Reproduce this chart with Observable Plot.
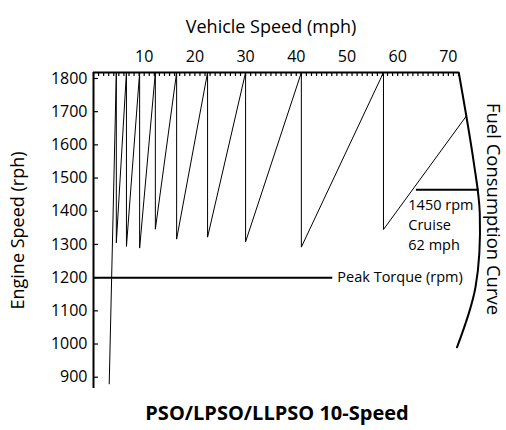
<!DOCTYPE html>
<html><head><meta charset="utf-8">
<script src="https://cdn.jsdelivr.net/npm/d3@7"></script>
<script src="https://cdn.jsdelivr.net/npm/@observablehq/plot@0.6"></script>
<style>
body{margin:0;background:#fff;font-family:"Open Sans",sans-serif;}
#chart{width:506px;height:395px;}
#title{width:506px;box-sizing:border-box;padding-left:48px;text-align:center;font-weight:bold;font-size:20px;line-height:36px;height:35px;color:#000;}
</style></head><body>
<div id="chart"></div>
<div id="title"></div>
<script>
// ---- data ----
const titleText = "PSO/LPSO/LLPSO 10-Speed";
const xLabel = "Vehicle Speed (mph)";
const yLabel = "Engine Speed (rph)";
const fuelLabel = "Fuel Consumption Curve";
const speedTicks = [10, 20, 30, 40, 50, 60, 70];
const minorSpeedTicks = d3.range(0, 73, 1);
const rpmTicks = [900, 1000, 1100, 1200, 1300, 1400, 1500, 1600, 1700, 1800];
const firstGearStart = {mph: 3.1, rpm: 880};
const shiftMph = [4.5, 6.5, 9.1, 12.2, 16.4, 22.5, 30.0, 41.0, 57.2];
const dropRpm = [1305, 1294, 1289, 1346, 1316, 1322, 1308, 1292, 1345];
const shiftTopRpm = 1818;
const lastGearEnd = {mph: 73.6, rpm: 1688};
const peakTorque = {rpm: 1200, endMph: 47.2, label: "Peak Torque (rpm)", labelMph: 48.1};
const cruise = {rpm: 1465, mph1: 63.7, mph2: 76.1, label: "1450 rpm\nCruise\n62 mph", labelMph: 62.1, labelRpm: 1362};
const fuelCurveMph = [72.05, 74.95, 76.2, 75.35, 71.7];
const fuelCurveRpm = [1818, 1553, 1393, 1171, 990];
const xDomain = [0, 72];
const yDomain = [866, 1818];

// ---- build ----
const saw = [firstGearStart];
shiftMph.forEach((m, i) => {
  saw.push({mph: m, rpm: shiftTopRpm});
  saw.push({mph: m, rpm: dropRpm[i]});
});
saw.push(lastGearEnd);
const fuel = fuelCurveMph.map((m, i) => ({mph: m, rpm: fuelCurveRpm[i]}));

const W = 506, H = 395, mL = 93, mR = 48, mT = 72, mB = 7;
const frameW = W - mL - mR, frameH = H - mT - mB;
const font = "Open Sans";

const plot = Plot.plot({
  width: W, height: H,
  marginLeft: mL, marginRight: mR, marginTop: mT, marginBottom: mB,
  style: {fontFamily: font, background: "#fff", color: "#000", overflow: "visible"},
  x: {domain: xDomain, axis: null},
  y: {domain: yDomain, axis: null},
  marks: [
    Plot.axisX(speedTicks, {anchor: "top", tickSize: 0, tickPadding: 11, fontSize: 16, label: null, tickFormat: d3.format("d")}),
    Plot.axisY(rpmTicks, {anchor: "left", tickSize: 0, tickPadding: 6, fontSize: 16, label: null, tickFormat: d3.format("d")}),
    Plot.ruleX(minorSpeedTicks, {x: d => d, insetBottom: frameH - 4, strokeWidth: 1.2}),
    Plot.ruleY(rpmTicks, {y: d => d, insetRight: frameW - 5, strokeWidth: 1.2}),
    Plot.ruleY([yDomain[1]], {strokeWidth: 2}),
    Plot.ruleX([xDomain[0]], {strokeWidth: 2}),
    Plot.line(saw, {x: "mph", y: "rpm", stroke: "#000", strokeWidth: 1}),
    Plot.ruleY([peakTorque.rpm], {x1: xDomain[0], x2: peakTorque.endMph, strokeWidth: 2}),
    Plot.text([peakTorque.label], {x: peakTorque.labelMph, y: peakTorque.rpm, text: d => d, textAnchor: "start", fontSize: 14.5, fill: "#000"}),
    Plot.ruleY([cruise.rpm], {x1: cruise.mph1, x2: cruise.mph2, strokeWidth: 2}),
    Plot.text([cruise.label], {x: cruise.labelMph, y: cruise.labelRpm, text: d => d, textAnchor: "start", lineHeight: 1.38, fontSize: 14.5, fill: "#000"}),
    Plot.line(fuel, {x: "mph", y: "rpm", curve: "catmull-rom", stroke: "#000", strokeWidth: 2}),
    Plot.text([xLabel], {frameAnchor: "top", dx: -5, dy: -52, text: d => d, textAnchor: "middle", fontSize: 18, fill: "#000"}),
    Plot.text([yLabel], {frameAnchor: "left", dx: -75, rotate: -90, text: d => d, textAnchor: "middle", fontSize: 18, fill: "#000"}),
    Plot.text([fuelLabel], {frameAnchor: "right", dx: 34, dy: -21.5, rotate: 90, text: d => d, textAnchor: "middle", fontSize: 18.5, fill: "#000"})
  ]
});
document.getElementById("chart").appendChild(plot);
document.getElementById("title").textContent = titleText;
</script>
</body></html>
